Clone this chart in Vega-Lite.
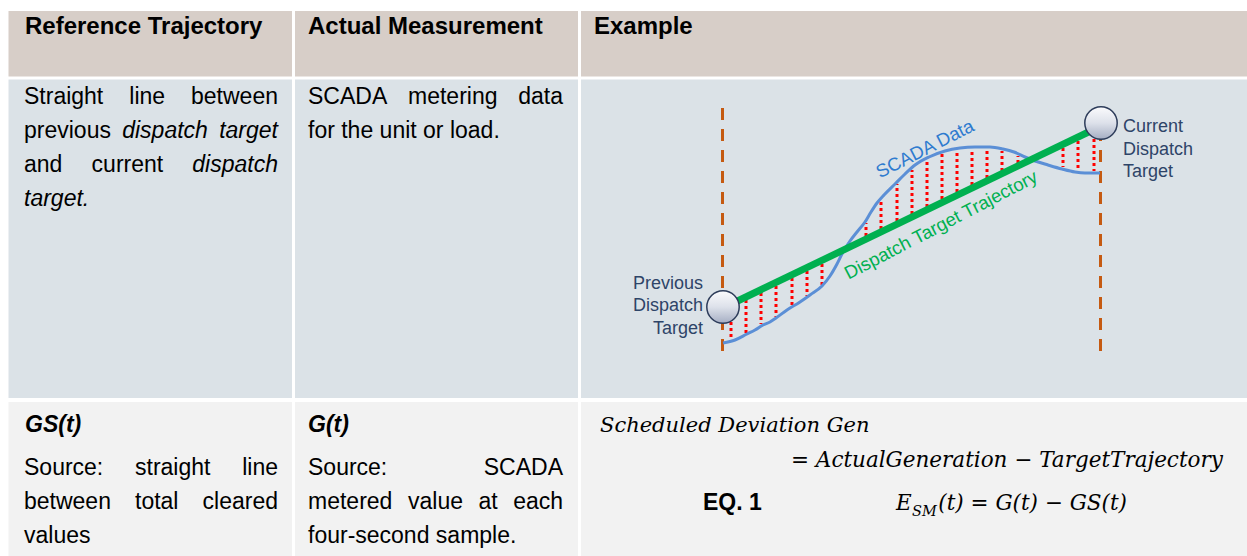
{
  "$schema": "https://vega.github.io/schema/vega-lite/v6.json",
  "width": 1247,
  "height": 556,
  "padding": 0,
  "autosize": {"type": "fit", "contains": "padding"},
  "background": "#ffffff",
  "config": {"view": {"stroke": null}},
  "encoding": {
    "x": {"field": "x", "type": "quantitative", "axis": null, "scale": {"domain": [0, 1247], "nice": false, "zero": false}},
    "y": {"field": "y", "type": "quantitative", "axis": null, "scale": {"domain": [0, 556], "nice": false, "zero": false, "reverse": true}}
  },
  "layer": [
    {
      "data": {"values": [
        {"x": 8.5, "x2": 292, "y": 11, "y2": 76.5, "band": "header"},
        {"x": 295, "x2": 578, "y": 11, "y2": 76.5, "band": "header"},
        {"x": 581, "x2": 1247, "y": 11, "y2": 76.5, "band": "header"},
        {"x": 8.5, "x2": 292, "y": 79.5, "y2": 398, "band": "body"},
        {"x": 295, "x2": 578, "y": 79.5, "y2": 398, "band": "body"},
        {"x": 581, "x2": 1247, "y": 79.5, "y2": 398, "band": "body"},
        {"x": 8.5, "x2": 292, "y": 402, "y2": 556, "band": "formula"},
        {"x": 295, "x2": 578, "y": 402, "y2": 556, "band": "formula"},
        {"x": 581, "x2": 1247, "y": 402, "y2": 556, "band": "formula"}
      ]},
      "mark": {"type": "rect"},
      "encoding": {
        "x2": {"field": "x2"},
        "y2": {"field": "y2"},
        "color": {"field": "band", "type": "nominal", "legend": null, "scale": {"domain": ["header", "body", "formula"], "range": ["#d7cec8", "#dbe2e7", "#f2f2f2"]}}
      }
    },
    {
      "data": {"values": [
        {"x": 722.5, "y": 108, "y2": 353},
        {"x": 1100.5, "y": 108, "y2": 353}
      ]},
      "mark": {"type": "rule", "color": "#c55a11", "strokeWidth": 3, "strokeDash": [12, 9]},
      "encoding": {"y2": {"field": "y2"}}
    },
    {
      "data": {"values": [
        {"x": 731, "y": 310, "y2": 338},
        {"x": 746, "y": 300, "y2": 333},
        {"x": 761, "y": 293, "y2": 324},
        {"x": 776, "y": 286, "y2": 317},
        {"x": 792, "y": 278, "y2": 305},
        {"x": 807, "y": 271, "y2": 296},
        {"x": 822, "y": 264, "y2": 285},
        {"x": 866, "y": 236, "y2": 223},
        {"x": 881, "y": 229, "y2": 201},
        {"x": 897, "y": 221, "y2": 184},
        {"x": 912, "y": 214, "y2": 170},
        {"x": 927, "y": 207, "y2": 160},
        {"x": 942, "y": 199, "y2": 154},
        {"x": 957, "y": 192, "y2": 150},
        {"x": 972, "y": 185, "y2": 149},
        {"x": 987, "y": 178, "y2": 149},
        {"x": 1002, "y": 171, "y2": 151},
        {"x": 1018, "y": 163, "y2": 156},
        {"x": 1063, "y": 148, "y2": 167},
        {"x": 1078, "y": 141, "y2": 170},
        {"x": 1094, "y": 133, "y2": 171}
      ]},
      "mark": {"type": "rule", "color": "#ff0000", "strokeWidth": 3, "strokeDash": [3, 3]},
      "encoding": {"y2": {"field": "y2"}}
    },
    {
      "data": {"values": [
        {"x": 723, "y": 343}, {"x": 735, "y": 340}, {"x": 747, "y": 334}, {"x": 755, "y": 330},
        {"x": 763, "y": 325}, {"x": 770, "y": 322}, {"x": 776, "y": 318}, {"x": 787, "y": 310},
        {"x": 800, "y": 302}, {"x": 810, "y": 295}, {"x": 822, "y": 286}, {"x": 830, "y": 276},
        {"x": 837, "y": 264}, {"x": 843, "y": 252}, {"x": 850, "y": 241}, {"x": 857, "y": 232},
        {"x": 865, "y": 222}, {"x": 871, "y": 212}, {"x": 877, "y": 203}, {"x": 884, "y": 195},
        {"x": 895, "y": 184}, {"x": 905, "y": 174}, {"x": 915, "y": 165}, {"x": 929, "y": 157},
        {"x": 945, "y": 151}, {"x": 960, "y": 148}, {"x": 975, "y": 147}, {"x": 990, "y": 147},
        {"x": 1003, "y": 149}, {"x": 1014, "y": 152}, {"x": 1025, "y": 157}, {"x": 1035, "y": 161},
        {"x": 1048, "y": 165}, {"x": 1062, "y": 169}, {"x": 1075, "y": 172}, {"x": 1085, "y": 173},
        {"x": 1100, "y": 173}
      ]},
      "mark": {"type": "line", "color": "#5b8fd6", "strokeWidth": 3, "interpolate": "monotone"},
      "encoding": {}
    },
    {
      "data": {"values": [
        {"x": 723, "y": 308},
        {"x": 1101, "y": 126}
      ]},
      "mark": {"type": "line", "color": "#00b050", "strokeWidth": 7},
      "encoding": {}
    },
    {
      "data": {"values": [
        {"x": 723, "y": 307},
        {"x": 1101, "y": 123}
      ]},
      "mark": {
        "type": "point", "shape": "circle", "size": 1050, "filled": true, "opacity": 1,
        "fill": {"gradient": "linear", "x1": 0, "y1": 0, "x2": 0, "y2": 1, "stops": [
          {"offset": 0, "color": "#fbfbfd"}, {"offset": 0.5, "color": "#dde1ea"}, {"offset": 1, "color": "#a5aec3"}
        ]},
        "stroke": "#2d3c5a", "strokeWidth": 1.5
      },
      "encoding": {}
    },
    {
      "data": {"values": [
        {"x": 703, "y": 289, "t": "Previous"},
        {"x": 703, "y": 311, "t": "Dispatch"},
        {"x": 703, "y": 334, "t": "Target"}
      ]},
      "mark": {"type": "text", "font": "Liberation Sans", "fontSize": 18, "color": "#2e4468", "align": "right", "baseline": "alphabetic"},
      "encoding": {"text": {"field": "t"}}
    },
    {
      "data": {"values": [
        {"x": 1123, "y": 132, "t": "Current"},
        {"x": 1123, "y": 154.5, "t": "Dispatch"},
        {"x": 1123, "y": 177, "t": "Target"}
      ]},
      "mark": {"type": "text", "font": "Liberation Sans", "fontSize": 18, "color": "#2e4468", "align": "left", "baseline": "alphabetic"},
      "encoding": {"text": {"field": "t"}}
    },
    {
      "data": {"values": [{"x": 925, "y": 149, "t": "SCADA Data"}]},
      "mark": {"type": "text", "font": "Liberation Sans", "fontSize": 18.5, "color": "#2e7bcf", "align": "center", "baseline": "middle", "angle": 333},
      "encoding": {"text": {"field": "t"}}
    },
    {
      "data": {"values": [{"x": 941, "y": 225, "t": "Dispatch Target Trajectory"}]},
      "mark": {"type": "text", "font": "Liberation Sans", "fontSize": 18.5, "color": "#00b050", "align": "center", "baseline": "middle", "angle": 332.5},
      "encoding": {"text": {"field": "t"}}
    },
    {
      "data": {"values": [
        {"x": 25, "y": 34, "t": "Reference Trajectory"},
        {"x": 308, "y": 34, "t": "Actual Measurement"},
        {"x": 594, "y": 34, "t": "Example"}
      ]},
      "mark": {"type": "text", "font": "Liberation Sans", "fontSize": 24, "fontWeight": "bold", "color": "#000000", "align": "left", "baseline": "alphabetic"},
      "encoding": {"text": {"field": "t"}}
    },
    {
      "data": {"values": [
        {"x": 703, "y": 510, "t": "EQ. 1"}
      ]},
      "mark": {"type": "text", "font": "Liberation Sans", "fontSize": 23, "fontWeight": "bold", "color": "#000000", "align": "left", "baseline": "alphabetic"},
      "encoding": {"text": {"field": "t"}}
    },
    {
      "data": {"values": [
        {"x": 24, "y": 104, "t": "Straight"},
        {"x": 129.3, "y": 104, "t": "line"},
        {"x": 24, "y": 138, "t": "previous"},
        {"x": 24, "y": 172, "t": "and"},
        {"x": 91.6, "y": 172, "t": "current"},
        {"x": 308, "y": 104, "t": "SCADA"},
        {"x": 408, "y": 104, "t": "metering"},
        {"x": 308, "y": 138, "t": "for the unit or load."},
        {"x": 24, "y": 475, "t": "Source:"},
        {"x": 135, "y": 475, "t": "straight"},
        {"x": 24, "y": 509, "t": "between"},
        {"x": 135, "y": 509, "t": "total"},
        {"x": 24, "y": 543, "t": "values"},
        {"x": 308, "y": 475, "t": "Source:"},
        {"x": 308, "y": 509, "t": "metered"},
        {"x": 408, "y": 509, "t": "value"},
        {"x": 478.4, "y": 509, "t": "at"},
        {"x": 308, "y": 543, "t": "four-second sample."}
      ]},
      "mark": {"type": "text", "font": "Liberation Sans", "fontSize": 23, "color": "#000000", "align": "left", "baseline": "alphabetic"},
      "encoding": {"text": {"field": "t"}}
    },
    {
      "data": {"values": [
        {"x": 278, "y": 104, "t": "between"},
        {"x": 563, "y": 104, "t": "data"},
        {"x": 278, "y": 475, "t": "line"},
        {"x": 278, "y": 509, "t": "cleared"},
        {"x": 563, "y": 475, "t": "SCADA"},
        {"x": 563, "y": 509, "t": "each"}
      ]},
      "mark": {"type": "text", "font": "Liberation Sans", "fontSize": 23, "color": "#000000", "align": "right", "baseline": "alphabetic"},
      "encoding": {"text": {"field": "t"}}
    },
    {
      "data": {"values": [
        {"x": 122.2, "y": 138, "t": "dispatch"},
        {"x": 24, "y": 206, "t": "target."}
      ]},
      "mark": {"type": "text", "font": "Liberation Sans", "fontSize": 23, "fontStyle": "italic", "color": "#000000", "align": "left", "baseline": "alphabetic"},
      "encoding": {"text": {"field": "t"}}
    },
    {
      "data": {"values": [
        {"x": 278, "y": 138, "t": "target"},
        {"x": 278, "y": 172, "t": "dispatch"}
      ]},
      "mark": {"type": "text", "font": "Liberation Sans", "fontSize": 23, "fontStyle": "italic", "color": "#000000", "align": "right", "baseline": "alphabetic"},
      "encoding": {"text": {"field": "t"}}
    },
    {
      "data": {"values": [
        {"x": 25, "y": 432, "t": "GS(t)"},
        {"x": 308, "y": 432, "t": "G(t)"}
      ]},
      "mark": {"type": "text", "font": "Liberation Sans", "fontSize": 23, "fontStyle": "italic", "fontWeight": "bold", "color": "#000000", "align": "left", "baseline": "alphabetic"},
      "encoding": {"text": {"field": "t"}}
    },
    {
      "data": {"values": [
        {"x": 600, "y": 432, "t": "Scheduled Deviation Gen"}
      ]},
      "mark": {"type": "text", "font": "DejaVu Serif", "fontSize": 21, "fontStyle": "italic", "color": "#000000", "align": "left", "baseline": "alphabetic"},
      "encoding": {"text": {"field": "t"}}
    },
    {
      "data": {"values": [
        {"x": 791, "y": 467, "t": "= ActualGeneration − TargetTrajectory"},
        {"x": 896, "y": 510, "t": "E"}
      ]},
      "mark": {"type": "text", "font": "DejaVu Serif", "fontSize": 21.5, "fontStyle": "italic", "color": "#000000", "align": "left", "baseline": "alphabetic"},
      "encoding": {"text": {"field": "t"}}
    },
    {
      "data": {"values": [
        {"x": 1127, "y": 510, "t": "(t) = G(t) − GS(t)"}
      ]},
      "mark": {"type": "text", "font": "DejaVu Serif", "fontSize": 21.5, "fontStyle": "italic", "color": "#000000", "align": "right", "baseline": "alphabetic"},
      "encoding": {"text": {"field": "t"}}
    },
    {
      "data": {"values": [
        {"x": 912, "y": 516, "t": "SM"}
      ]},
      "mark": {"type": "text", "font": "DejaVu Serif", "fontSize": 14.5, "fontStyle": "italic", "color": "#000000", "align": "left", "baseline": "alphabetic"},
      "encoding": {"text": {"field": "t"}}
    }
  ]
}
